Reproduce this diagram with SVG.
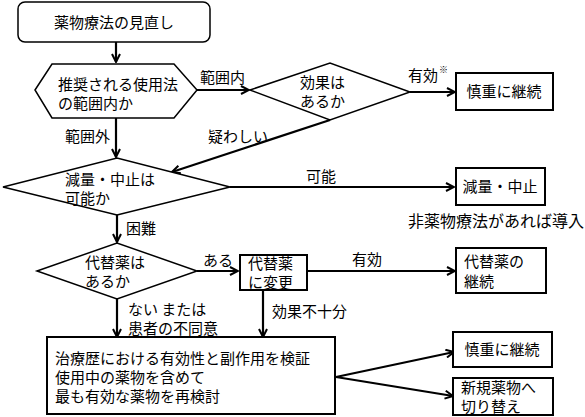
<svg xmlns="http://www.w3.org/2000/svg" width="585" height="417" viewBox="0 0 585 417">
<defs>
<marker id="ah" markerWidth="10" markerHeight="10" refX="9" refY="5" orient="auto" markerUnits="userSpaceOnUse">
<path d="M1,1 L9,5 L1,9" fill="none" stroke="#000" stroke-width="2"/>
</marker>
<style>
text{font-family:"Noto Sans CJK JP","Noto Sans CJK SC",sans-serif;font-size:15px;fill:#000}
.s{fill:#fff;stroke:#000;stroke-width:1.5}
.b{fill:#fff;stroke:#000;stroke-width:2}
.c{fill:none;stroke:#000;stroke-width:2.2;marker-end:url(#ah)}
.m{text-anchor:middle}
</style>
</defs>
<rect width="585" height="417" fill="#fff"/>
<g id="connectors">
<line class="c" x1="116" y1="42" x2="116" y2="62"/>
<line class="c" x1="197" y1="90" x2="249" y2="90"/>
<line class="c" x1="410" y1="92" x2="455" y2="92"/>
<line class="c" x1="330" y1="120" x2="172" y2="172"/>
<line class="c" x1="116" y1="118" x2="116" y2="157"/>
<line class="c" x1="230" y1="187" x2="454" y2="187"/>
<line class="c" x1="117" y1="215" x2="117" y2="242"/>
<line class="c" x1="197" y1="271" x2="238" y2="271"/>
<line class="c" x1="307" y1="271" x2="455" y2="271"/>
<line class="c" x1="263" y1="290" x2="263" y2="337"/>
<line class="c" x1="117" y1="299" x2="117" y2="337"/>
<line class="c" x1="336" y1="377" x2="454" y2="352"/>
<line class="c" x1="336" y1="377" x2="453" y2="396"/>
<text x="200" y="83">範囲内</text>
<text x="408" y="81">有効</text>
<text x="439" y="73" style="font-size:9px">※</text>
<text x="208" y="142">疑わしい</text>
<text x="65" y="142">範囲外</text>
<text x="306" y="182">可能</text>
<text x="126" y="234">困難</text>
<text x="203" y="266">ある</text>
<text x="352" y="265">有効</text>
<text x="272" y="317">効果不十分</text>
<text x="128" y="315">ない または</text>
<text x="128" y="334">患者の不同意</text>
</g>
<g id="start">
<rect class="s" x="18" y="2" width="192" height="40" rx="7"/>
<text class="m" x="114" y="28">薬物療法の見直し</text>
</g>
<g id="q-range">
<polygon class="s" points="35,90 52,64 174,64 197,90 174,118 52,118"/>
<text x="58" y="90">推奨される使用法</text>
<text x="58" y="109">の範囲内か</text>
</g>
<g id="q-effect">
<polygon class="s" points="250,90 330,63 410,92 330,120"/>
<text x="300" y="88">効果は</text>
<text x="300" y="107">あるか</text>
</g>
<g id="continue1">
<rect class="b" x="456" y="73" width="97" height="37"/>
<text class="m" x="504" y="97">慎重に継続</text>
</g>
<g id="q-reduce">
<polygon class="s" points="3,187 117,158 230,187 117,215"/>
<text x="65" y="185">減量・中止は</text>
<text x="65" y="204">可能か</text>
</g>
<g id="reduce">
<rect class="b" x="456" y="168" width="89" height="37"/>
<text class="m" x="500" y="192">減量・中止</text>
<text x="408" y="227" style="font-size:16px">非薬物療法があれば導入</text>
</g>
<g id="q-alt">
<polygon class="s" points="37,271 117,243 197,271 117,299"/>
<text x="85" y="268">代替薬は</text>
<text x="85" y="287">あるか</text>
</g>
<g id="change">
<rect class="b" x="240" y="255" width="67" height="35"/>
<text x="248" y="269">代替薬</text>
<text x="248" y="288">に変更</text>
</g>
<g id="alt-continue">
<rect class="b" x="456" y="248" width="90" height="45"/>
<text x="464" y="267">代替薬の</text>
<text x="464" y="287">継続</text>
</g>
<g id="review">
<rect class="b" x="47" y="337" width="288" height="77"/>
<text x="55" y="364">治療歴における有効性と副作用を検証</text>
<text x="55" y="383">使用中の薬物を含めて</text>
<text x="55" y="402">最も有効な薬物を再検討</text>
</g>
<g id="continue2">
<rect class="b" x="453" y="332" width="99" height="35"/>
<text class="m" x="502" y="355">慎重に継続</text>
</g>
<g id="switch">
<rect class="b" x="453" y="378" width="100" height="37"/>
<text x="461" y="393">新規薬物へ</text>
<text x="461" y="412">切り替え</text>
</g>
</svg>
